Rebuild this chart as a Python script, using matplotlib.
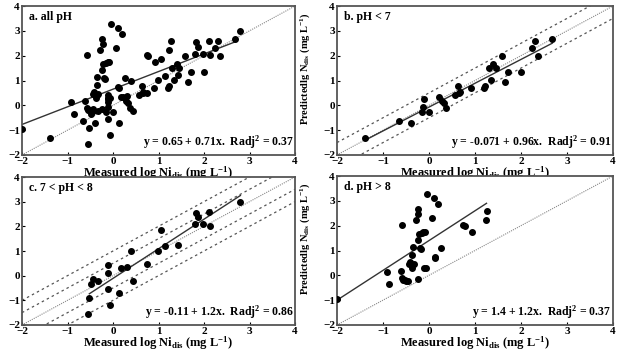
import numpy as np
import matplotlib
matplotlib.use("Agg")
import matplotlib.pyplot as plt

plt.rcParams['font.family'] = ['Liberation Serif', 'DejaVu Serif']
plt.rcParams['font.weight'] = 'bold'
plt.rcParams['mathtext.fontset'] = 'custom'
plt.rcParams['mathtext.rm'] = 'Liberation Serif:bold'
plt.rcParams['mathtext.bf'] = 'Liberation Serif:bold'
plt.rcParams['mathtext.it'] = 'Liberation Serif:bold'
plt.rcParams['mathtext.default'] = 'bf'

# ---- data ----
b_x = [-1.39, -0.65, -0.39, -0.16, -0.12, -0.10, -0.01, 0.22, 0.29, 0.33, 0.37,
       0.57, 0.64, 0.65, 0.67, 0.91, 1.20, 1.22, 1.30, 1.35, 1.40, 1.45, 1.59,
       1.65, 1.71, 1.99, 2.24, 2.31, 2.36, 2.68]
b_y = [-1.32, -0.63, -0.70, -0.26, -0.08, 0.25, -0.26, 0.32, 0.18, 0.09, -0.11,
       0.41, 0.78, 0.48, 0.52, 0.71, 0.68, 0.77, 1.50, 1.01, 1.66, 1.50, 1.99,
       0.93, 1.34, 1.33, 2.29, 2.61, 1.99, 2.66]

c_x = [-0.54, -0.52, -0.48, -0.43, -0.33, -0.12, -0.11, -0.12, -0.07, 0.13,
       0.18, 0.31, 0.39, 0.43, 0.74, 0.98, 1.06, 1.15, 1.43, 1.80, 1.82, 1.87,
       1.98, 2.10, 2.14, 2.80]
c_y = [-1.55, -0.92, -0.34, -0.13, -0.21, 0.43, 0.12, -0.54, -1.19, -0.71,
       0.33, 0.37, 1.00, -0.21, 0.48, 1.02, 1.86, 1.19, 1.23, 2.08, 2.55, 2.36,
       2.08, 2.60, 2.02, 2.99]

d_x = [-1.99, -0.92, -0.86, -0.58, -0.61, -0.58, -0.56, -0.52, -0.49, -0.45,
       -0.43, -0.41, -0.36, -0.32, -0.38, -0.36, -0.35, -0.29, -0.25, -0.23,
       -0.24, -0.25, -0.22, -0.20, -0.17, -0.16, -0.12, -0.09, -0.10, -0.07,
       -0.04, 0.06, 0.10, 0.12, 0.13, 0.20, 0.26, 0.74, 0.78, 0.93, 1.23, 1.27]
d_y = [-0.97, 0.12, -0.34, 2.03, 0.17, -0.09, -0.17, -0.20, -0.23, -0.23,
       0.44, 0.52, 0.42, 0.47, 0.28, 0.82, 1.15, 2.23, 2.67, 2.48,
       -0.15, 1.41, 1.68, 1.11, 1.06, 1.69, 1.73, 1.76, 0.28, 0.31,
       3.26, 2.30, 3.13, 0.74, 0.68, 2.89, 1.11, 2.03, 2.00, 1.73, 2.23, 2.60]

panel_titles = ["a. all pH", "b. pH < 7", "c. 7 < pH < 8", "d. pH > 8"]
equations = ["y = 0.65 + 0.71x.  Radj$^2$ = 0.37",
             "y = -0.071 + 0.96x.  Radj$^2$ = 0.91",
             "y = -0.11 + 1.2x.  Radj$^2$ = 0.86",
             "y = 1.4 + 1.2x.  Radj$^2$ = 0.37"]
intercepts = [0.65, -0.071, -0.11, 1.4]
slopes = [0.71, 0.96, 1.2, 1.2]
fit_ranges = [(-2.0, 2.7), (-1.4, 2.68), (-0.52, 2.8), (-2.0, 1.25)]
band_offsets = [[], [0.5], [0.5, 1.0], []]
x_ticks = [-2, -1, 0, 1, 2, 3, 4]
y_ticks = [-2, -1, 0, 1, 2, 3, 4]

a_x = b_x + c_x + d_x
a_y = b_y + c_y + d_y
xs = [a_x, b_x, c_x, d_x]
ys = [a_y, b_y, c_y, d_y]

fig = plt.figure(figsize=(6.21, 3.49), dpi=100)
W, H = 621.0, 349.0
boxes = [(22, 6, 295, 155), (337, 6, 613, 155), (22, 177, 295, 325), (337, 176, 613, 325)]
ylab_x = [-0.077, -0.09, -0.077, -0.09]

xlab = "Measured log Ni$_{dis}$ (mg L$^{-1}$)"
ylab = "Predictedlg N$_{dis}$ (mg L$^{-1}$)"

for i in range(4):
    l, t, r, b = boxes[i]
    ax = fig.add_axes([l / W, 1 - b / H, (r - l) / W, (b - t) / H])
    ax.set_xlim(-2, 4)
    ax.set_ylim(-2, 4)
    # 1:1 line
    ax.plot([-2, 4], [-2, 4], color='#888888', lw=0.8, ls=(0, (1, 1)), zorder=1)
    for off in band_offsets[i]:
        for s in (1, -1):
            ax.plot([-2, 4], [-2 + s * off, 4 + s * off], color='#555555', lw=0.9,
                    ls=(0, (2, 2.5)), zorder=1)
    x0, x1 = fit_ranges[i]
    ax.plot([x0, x1], [intercepts[i] + slopes[i] * x0, intercepts[i] + slopes[i] * x1],
            color='#333333', lw=1.0, zorder=2)
    ax.plot(xs[i], ys[i], 'o', color='black', ms=4.0, mec='black', zorder=3)
    ax.set_xticks(x_ticks)
    ax.set_yticks(y_ticks)
    ax.tick_params(direction='in', length=2.5, width=0.8, labelsize=8, pad=1.5)
    for lab in ax.get_xticklabels() + ax.get_yticklabels():
        lab.set_fontweight('bold')
    for sp in ax.spines.values():
        sp.set_color('#555555')
        sp.set_linewidth(1.3)
    ax.text(0.025, 0.965, panel_titles[i], transform=ax.transAxes, ha='left', va='top',
            fontsize=8.5, fontweight='bold')
    ax.text(0.995, 0.03, equations[i], transform=ax.transAxes, ha='right', va='bottom',
            fontsize=8.5, fontweight='bold')
    ax.set_xlabel(xlab, fontsize=9, fontweight='bold', labelpad=-1)
    ax.set_ylabel(ylab, fontsize=7.5, fontweight='bold')
    ax.yaxis.set_label_coords(ylab_x[i], 0.58)

fig.savefig("out.png", dpi=100)
